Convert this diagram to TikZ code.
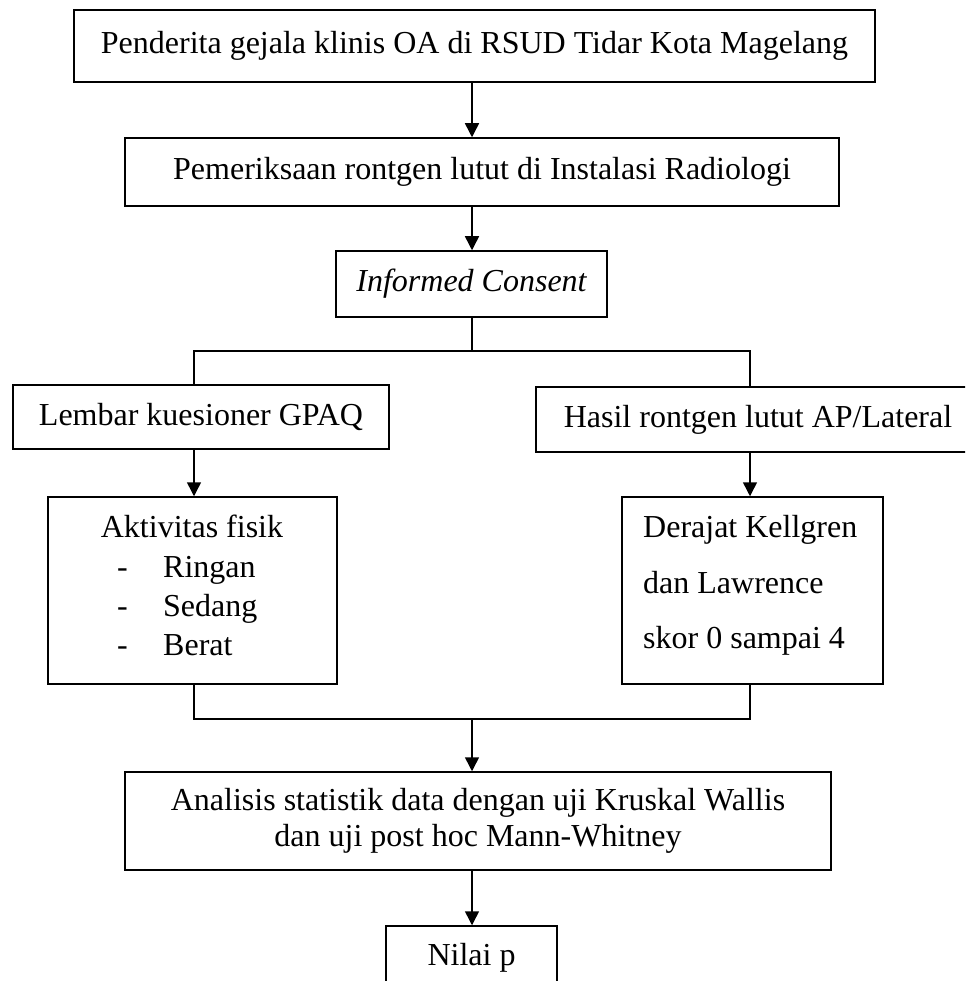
\documentclass[tikz,border=0pt]{standalone}
\usepackage{fontspec}
\setmainfont{Liberation Serif}
\usetikzlibrary{arrows.meta}
\begin{document}
\begin{tikzpicture}[x=1pt,y=-1pt,
  every node/.style={font=\fontsize{32}{36}\selectfont, inner sep=0pt},
  box/.style={draw, line width=1.5pt, rectangle},
  link/.style={line width=1.5pt},
  arr/.style={link, -{Triangle[length=14pt,width=14pt]}}]
\useasboundingbox (0,0) rectangle (965,981);
\clip (0,0) rectangle (965,981);
\fill[white] (0,0) rectangle (965,981);

\node[box, minimum width=801pt, minimum height=72pt] (b1) at (474.5,46) {Penderita gejala klinis OA di RSUD Tidar Kota Magelang};
\node[box, minimum width=714pt, minimum height=68pt] (b2) at (482,172) {Pemeriksaan rontgen lutut di Instalasi Radiologi};
\node[box, minimum width=271pt, minimum height=66pt] (b3) at (471.5,284) {\itshape Informed Consent};
\node[box, minimum width=376pt, minimum height=64pt] (b4) at (201,417) {Lembar kuesioner GPAQ};
\node[box, minimum width=444pt, minimum height=65pt] (b5) at (758,419.5) {Hasil rontgen lutut AP/Lateral};
\node[box, minimum width=289pt, minimum height=187pt] (b6) at (192.5,590.5) {};
\node[box, minimum width=261pt, minimum height=187pt] (b7) at (752.5,590.5) {};
\node[box, minimum width=706pt, minimum height=98pt, align=center] (b8) at (478,821) {Analisis statistik data dengan uji Kruskal Wallis\\dan uji post hoc Mann-Whitney};
\node[box, minimum width=171pt, minimum height=100pt] (b9) at (471.5,976) {};

\node[anchor=base] (t6) at (192,537) {Aktivitas fisik};
\node[anchor=base west] (d1) at (117,577) {-};
\node[anchor=base west] (r1) at (163,577) {Ringan};
\node[anchor=base west] (d2) at (117,616) {-};
\node[anchor=base west] (r2) at (163,616) {Sedang};
\node[anchor=base west] (d3) at (117,655) {-};
\node[anchor=base west] (r3) at (163,655) {Berat};

\node[anchor=base west] (t7a) at (643,537) {Derajat Kellgren};
\node[anchor=base west] (t7b) at (643,593) {dan Lawrence};
\node[anchor=base west] (t7c) at (643,648) {skor 0 sampai 4};

\node[anchor=base] (t9) at (471.5,965) {Nilai p};

\coordinate (mid) at (472,0);
\coordinate (lx) at (194,0);
\coordinate (rx) at (750,0);
\coordinate (j1) at (472,351);
\coordinate (j2) at (472,719);

\draw[arr] (b1.south -| mid) -- (b2.north -| mid);
\draw[arr] (b2.south -| mid) -- (b3.north -| mid);
\draw[link] (b3.south -| mid) -- (j1);
\draw[link] (b4.north -| lx) |- (j1) -| (b5.north -| rx);
\draw[arr] (b4.south -| lx) -- (b6.north -| lx);
\draw[arr] (b5.south -| rx) -- (b7.north -| rx);
\draw[link] (b6.south -| lx) |- (j2) -| (b7.south -| rx);
\draw[arr] (j2) -- (b8.north -| mid);
\draw[arr] (b8.south -| mid) -- (b9.north -| mid);
\end{tikzpicture}
\end{document}
